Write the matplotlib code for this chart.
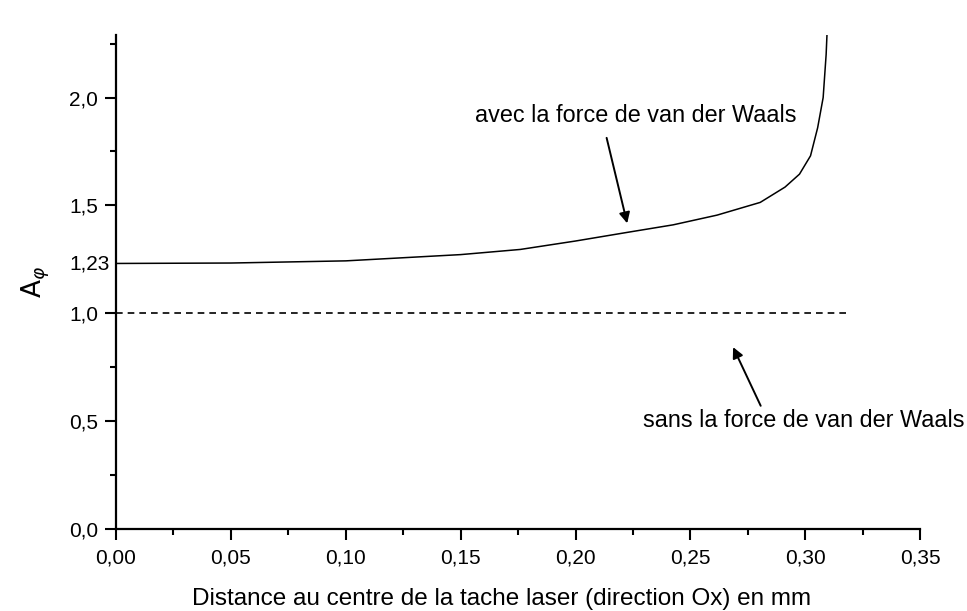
import numpy as np
import matplotlib.pyplot as plt
from matplotlib.ticker import FixedLocator, FuncFormatter

plt.rcParams['font.family'] = ['Liberation Sans', 'DejaVu Sans']

# courbe avec la force de van der Waals
x_vdw = [0.0, 0.05, 0.10, 0.15, 0.176, 0.20, 0.2225, 0.2425, 0.2616,
         0.2804, 0.2912, 0.2975, 0.3023, 0.3054, 0.3078, 0.3091, 0.3095]
a_vdw = [1.231, 1.233, 1.243, 1.272, 1.296, 1.335, 1.375, 1.41, 1.455,
         1.514, 1.585, 1.645, 1.73, 1.86, 2.0, 2.2, 2.3]
# sans la force de van der Waals
x_ref = [0.0, 0.32]
a_ref = [1.0, 1.0]

x_ticks = [0.0, 0.05, 0.10, 0.15, 0.20, 0.25, 0.30, 0.35]
x_minor = [0.025, 0.075, 0.125, 0.175, 0.225, 0.275, 0.325]
y_ticks = [0.0, 0.5, 1.0, 1.5, 2.0]
y_minor = [0.25, 0.75, 1.75, 2.25]

fig = plt.figure(figsize=(9.67, 6.11), dpi=100)
ax = fig.add_axes([0.120, 0.1342, 0.8315, 0.8085])

ax.plot(x_vdw, a_vdw, color='black', lw=1.1)
ax.plot(x_ref, a_ref, color='black', lw=1.2, ls=(0, (4, 3)))

ax.set_xlim(0, 0.35)
ax.set_ylim(0, 2.29)

for s in ['top', 'right']:
    ax.spines[s].set_visible(False)
for s in ['left', 'bottom']:
    ax.spines[s].set_linewidth(1.6)

ax.xaxis.set_major_locator(FixedLocator(x_ticks))
ax.xaxis.set_major_formatter(FuncFormatter(lambda v, p: ('%.2f' % v).replace('.', ',')))
ax.xaxis.set_minor_locator(FixedLocator(x_minor))
ax.yaxis.set_major_locator(FixedLocator(y_ticks))
ax.yaxis.set_major_formatter(FuncFormatter(lambda v, p: ('%.1f' % v).replace('.', ',')))
ax.yaxis.set_minor_locator(FixedLocator(y_minor))

ax.tick_params(which='major', direction='out', length=8, width=1.5,
               labelsize=15)
ax.tick_params(which='minor', direction='out', length=4, width=1.5)
ax.tick_params(axis='x', which='major', pad=6)
ax.tick_params(axis='y', which='major', pad=5)

ax.annotate('1,23', xy=(0, 1.23), xytext=(-4.5, 0), textcoords='offset points',
            ha='right', va='center', fontsize=15)

ax.set_xlabel('Distance au centre de la tache laser (direction Ox) en mm',
              fontsize=17.5)
ax.xaxis.set_label_coords(0.48, -0.12)
ax.set_ylabel(r'$\mathrm{A}_{\varphi}$', fontsize=19)
ax.yaxis.set_label_coords(-0.08, 0.5)

ax.annotate('avec la force de van der Waals', xy=(0.2225, 1.417),
            xytext=(0.2264, 1.917), fontsize=16.8, ha='center', va='center',
            arrowprops=dict(arrowstyle='-|>', color='black', lw=1.4,
                            mutation_scale=16, shrinkA=6, shrinkB=0,
                            relpos=(0.40, 0.0)))
ax.annotate('sans la force de van der Waals', xy=(0.2686, 0.843),
            xytext=(0.2294, 0.505), fontsize=16.8, ha='left', va='center',
            arrowprops=dict(arrowstyle='-|>', color='black', lw=1.4,
                            mutation_scale=16, shrinkA=0, shrinkB=0,
                            relpos=(0.37, 1.0)))

fig.savefig('out.png', dpi=100)
